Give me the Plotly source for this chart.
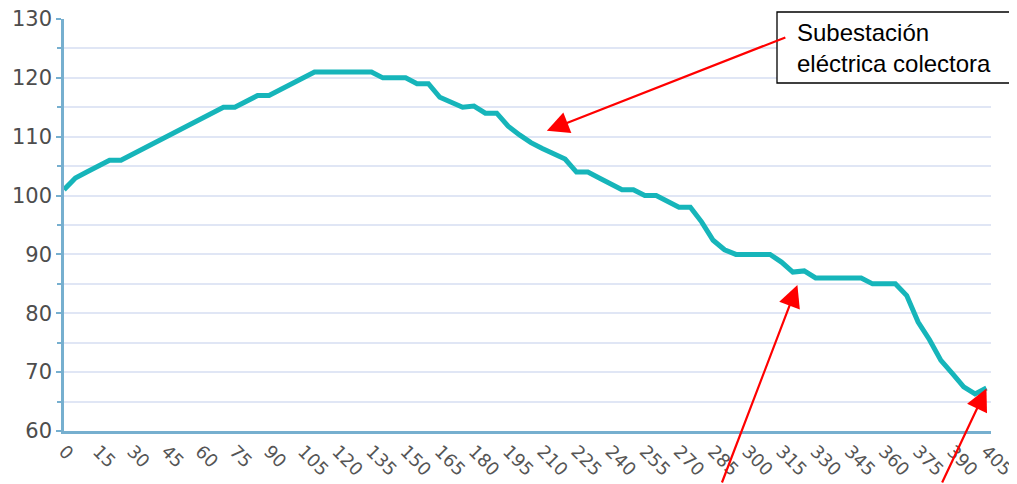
import plotly.graph_objects as go

distance = list(range(0, 406, 5))
elevation = [
    101, 103, 104, 105, 106, 106, 107, 108, 109, 110,
    111, 112, 113, 114, 115, 115, 116, 117, 117, 118,
    119, 120, 121, 121, 121, 121, 121, 121, 120, 120,
    120, 119, 119, 116.7, 115.8, 115, 115.2, 114, 114, 111.8,
    110.3, 109, 108, 107.2, 106.2, 104, 104, 103, 102, 101,
    101, 100, 100, 99, 98, 98, 95.5, 92.4, 90.8, 90,
    90, 90, 90, 88.7, 87, 87.2, 86, 86, 86, 86,
    86, 85, 85, 85, 83, 78.5, 75.5, 72, 69.8, 67.5,
    66.3, 67.3,
]
x_ticks = list(range(0, 406, 15))
y_ticks = list(range(60, 131, 10))

annotation_text = "Subestación<br>eléctrica colectora"

# page body has an 8px margin: size the figure so it fills the window
OFF = 8
W, H = 1017 - OFF, 484 - OFF
ML, MR, MT, MB = 64 - OFF, 34 - OFF, 19 - OFF, 53
PW, PH = W - ML - MR, H - MT - MB


def px_x(p):
    return (p - OFF - ML) / PW


def px_y(p):
    return (H - MB - (p - OFF)) / PH


fig = go.Figure()
fig.add_trace(go.Scatter(
    x=distance, y=elevation, mode="lines",
    line=dict(color="#16b5ba", width=5, shape="linear"),
    showlegend=False,
))

axis_color = "#76afcf"
grid_color = "#e0e6f5"

arrow_style = dict(text="", showarrow=True, arrowhead=2, arrowsize=2,
                   arrowwidth=2.2, arrowcolor="#ff0000",
                   axref="pixel", ayref="pixel", xref="x", yref="y")

fig.update_layout(
    width=W, height=H,
    margin=dict(l=ML, r=MR, t=MT, b=MB, autoexpand=False),
    paper_bgcolor="white", plot_bgcolor="white",
    font=dict(family="DejaVu Sans", color="#505050"),
    xaxis=dict(
        range=[0, 407], tickmode="array", tickvals=x_ticks,
        ticktext=[str(v) for v in x_ticks], tickangle=45,
        showgrid=False, zeroline=False, showline=True, automargin=False,
        linecolor=axis_color, linewidth=2.5, ticks="",
        tickfont=dict(size=18, color="#555555"), ticklabeloverflow="allow",
    ),
    yaxis=dict(
        range=[60, 130], tickmode="array", tickvals=y_ticks,
        showgrid=True, gridcolor=grid_color, gridwidth=2, automargin=False,
        zeroline=False, showline=True, linecolor=axis_color, linewidth=2.5,
        ticks="outside", ticklen=5, tickcolor=axis_color, tickwidth=2,
        tickfont=dict(size=21, color="#4d4d4d"), ticklabeloverflow="allow",
        ticklabelstandoff=0,
        minor=dict(dtick=5, showgrid=True, gridcolor=grid_color, gridwidth=2,
                   ticks="outside", ticklen=4, tickcolor=axis_color, tickwidth=1.5),
    ),
    shapes=[
        dict(type="rect", xref="paper", yref="paper",
             x0=px_x(777), x1=px_x(1015), y0=px_y(83), y1=px_y(12),
             line=dict(color="black", width=1.3), fillcolor="white", layer="above"),
    ],
    annotations=[
        dict(
            xref="paper", yref="paper", x=px_x(795), y=px_y(47.5),
            xanchor="left", yanchor="middle", showarrow=False,
            text=annotation_text, align="left",
            font=dict(family="Liberation Sans", size=24, color="black"),
        ),
        dict(x=212, y=111.0, ax=240, ay=-94, **arrow_style),
        dict(x=322, y=84.8, ax=-76, ay=205, **arrow_style),
        dict(x=405, y=67.2, ax=-45, ay=102, **arrow_style),
    ],
)

fig.write_html("out.html")
